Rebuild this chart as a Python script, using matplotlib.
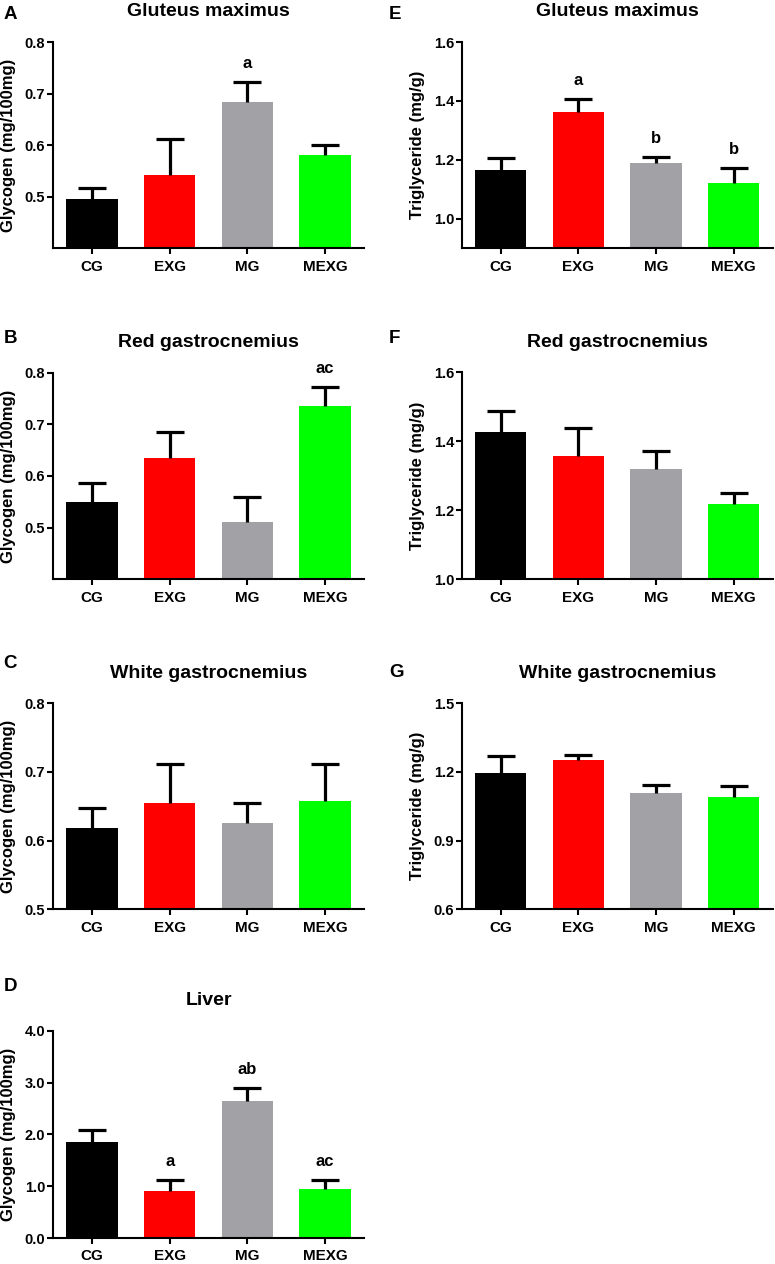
import numpy as np
import matplotlib
matplotlib.use("Agg")
import matplotlib.pyplot as plt

plt.rcParams['font.family'] = ['Liberation Sans', 'DejaVu Sans']
plt.rcParams['font.weight'] = 'bold'

# ---------------- data ----------------
groups = ["CG", "EXG", "MG", "MEXG"]
bar_colors = ["#000000", "#FF0000", "#A1A1A6", "#00FF00"]

# Glycogen (mg/100mg)
gly_gluteus_mean = [0.496, 0.542, 0.683, 0.581]
gly_gluteus_sem = [0.021, 0.069, 0.040, 0.019]
gly_gluteus_sig = ["", "", "a", ""]

gly_red_mean = [0.549, 0.635, 0.511, 0.736]
gly_red_sem = [0.038, 0.049, 0.048, 0.036]
gly_red_sig = ["", "", "", "ac"]

gly_white_mean = [0.618, 0.655, 0.626, 0.657]
gly_white_sem = [0.029, 0.056, 0.029, 0.054]
gly_white_sig = ["", "", "", ""]

gly_liver_mean = [1.847, 0.915, 2.650, 0.940]
gly_liver_sem = [0.243, 0.205, 0.246, 0.180]
gly_liver_sig = ["", "a", "ab", "ac"]

# Triglyceride (mg/g)
tg_gluteus_mean = [1.166, 1.364, 1.189, 1.123]
tg_gluteus_sem = [0.042, 0.042, 0.021, 0.049]
tg_gluteus_sig = ["", "a", "b", "b"]

tg_red_mean = [1.427, 1.359, 1.321, 1.219]
tg_red_sem = [0.062, 0.080, 0.050, 0.030]
tg_red_sig = ["", "", "", ""]

tg_white_mean = [1.194, 1.252, 1.107, 1.092]
tg_white_sem = [0.074, 0.022, 0.036, 0.047]
tg_white_sig = ["", "", "", ""]

gly_label = "Glycogen (mg/100mg)"
tg_label = "Triglyceride (mg/g)"

# ---------------- figure ----------------
W, H = 775, 1264
fig = plt.figure(figsize=(W / 100, H / 100), dpi=100)

LEFT_X = (53.0, 364.0)
RIGHT_X = (461.7, 772.7)
ROWS = [(42.0, 248.3), (372.5, 579.3), (703.3, 909.3), (1030.8, 1238.0)]

panels = [
    # letter, letter (x, baseline), col, row, title, ylabel, means, sems, sig, ylim, yticks
    ("A", (3.3, 19.3), LEFT_X, 0, "Gluteus maximus", gly_label,
     gly_gluteus_mean, gly_gluteus_sem, gly_gluteus_sig, (0.4, 0.8), [0.5, 0.6, 0.7, 0.8]),
    ("B", (3.3, 343.3), LEFT_X, 1, "Red gastrocnemius", gly_label,
     gly_red_mean, gly_red_sem, gly_red_sig, (0.4, 0.8), [0.5, 0.6, 0.7, 0.8]),
    ("C", (3.3, 668.3), LEFT_X, 2, "White gastrocnemius", gly_label,
     gly_white_mean, gly_white_sem, gly_white_sig, (0.5, 0.8), [0.5, 0.6, 0.7, 0.8]),
    ("D", (3.3, 991.3), LEFT_X, 3, "Liver", gly_label,
     gly_liver_mean, gly_liver_sem, gly_liver_sig, (0.0, 4.0), [0.0, 1.0, 2.0, 3.0, 4.0]),
    ("E", (389.0, 19.3), RIGHT_X, 0, "Gluteus maximus", tg_label,
     tg_gluteus_mean, tg_gluteus_sem, tg_gluteus_sig, (0.9, 1.6), [1.0, 1.2, 1.4, 1.6]),
    ("F", (389.0, 343.3), RIGHT_X, 1, "Red gastrocnemius", tg_label,
     tg_red_mean, tg_red_sem, tg_red_sig, (1.0, 1.6), [1.0, 1.2, 1.4, 1.6]),
    ("G", (389.0, 676.7), RIGHT_X, 2, "White gastrocnemius", tg_label,
     tg_white_mean, tg_white_sem, tg_white_sig, (0.6, 1.5), [0.6, 0.9, 1.2, 1.5]),
]

for (letter, lpos, cols, row, title, ylabel, means, sems, sig, ylim, yticks) in panels:
    x0, x1 = cols
    top, bottom = ROWS[row]
    ax = fig.add_axes([x0 / W, 1 - bottom / H, (x1 - x0) / W, (bottom - top) / H])
    xs = np.arange(len(groups))
    ax.bar(xs, means, width=0.66, color=bar_colors, zorder=2)
    eb = ax.errorbar(xs, means, yerr=[np.zeros(len(means)), sems], fmt='none',
                     ecolor='black', elinewidth=2.3, capsize=10, capthick=2.3, zorder=3)
    eb[1][0].set_visible(False)
    for xi, m, s, t in zip(xs, means, sems, sig):
        if t:
            ax.annotate(t, (xi, m + s), xytext=(0, 10), textcoords='offset points',
                        ha='center', va='baseline', fontsize=12, fontweight='bold')
    ax.set_xlim(-0.5, 3.5)
    ax.set_ylim(*ylim)
    ax.set_yticks(yticks)
    ax.set_yticklabels([f"{v:.1f}" for v in yticks], fontsize=10.5, fontweight='bold')
    ax.set_xticks(xs)
    ax.set_xticklabels(groups, fontsize=11, fontweight='bold')
    for s in ("top", "right"):
        ax.spines[s].set_visible(False)
    for s in ("left", "bottom"):
        ax.spines[s].set_linewidth(1.5)
    ax.tick_params(axis='y', direction='out', length=4.3, width=1.5, pad=1.2)
    ax.tick_params(axis='x', direction='out', length=4.3, width=1.5,
                   pad=3.6 if row == 3 else 4.3)
    h_px = bottom - top
    w_px = x1 - x0
    ax.text(0.5, 1 + 25.5 / h_px, title, transform=ax.transAxes, ha='center',
            va='baseline', fontsize=14, fontweight='bold')
    ax.text(-44.7 / w_px, 0.5, ylabel, transform=ax.transAxes, rotation=90,
            ha='center', va='center', fontsize=12, fontweight='bold')
    fig.text(lpos[0] / W, 1 - lpos[1] / H, letter, ha='left', va='baseline',
             fontsize=13.5, fontweight='bold')

fig.savefig("out.png", dpi=100)
